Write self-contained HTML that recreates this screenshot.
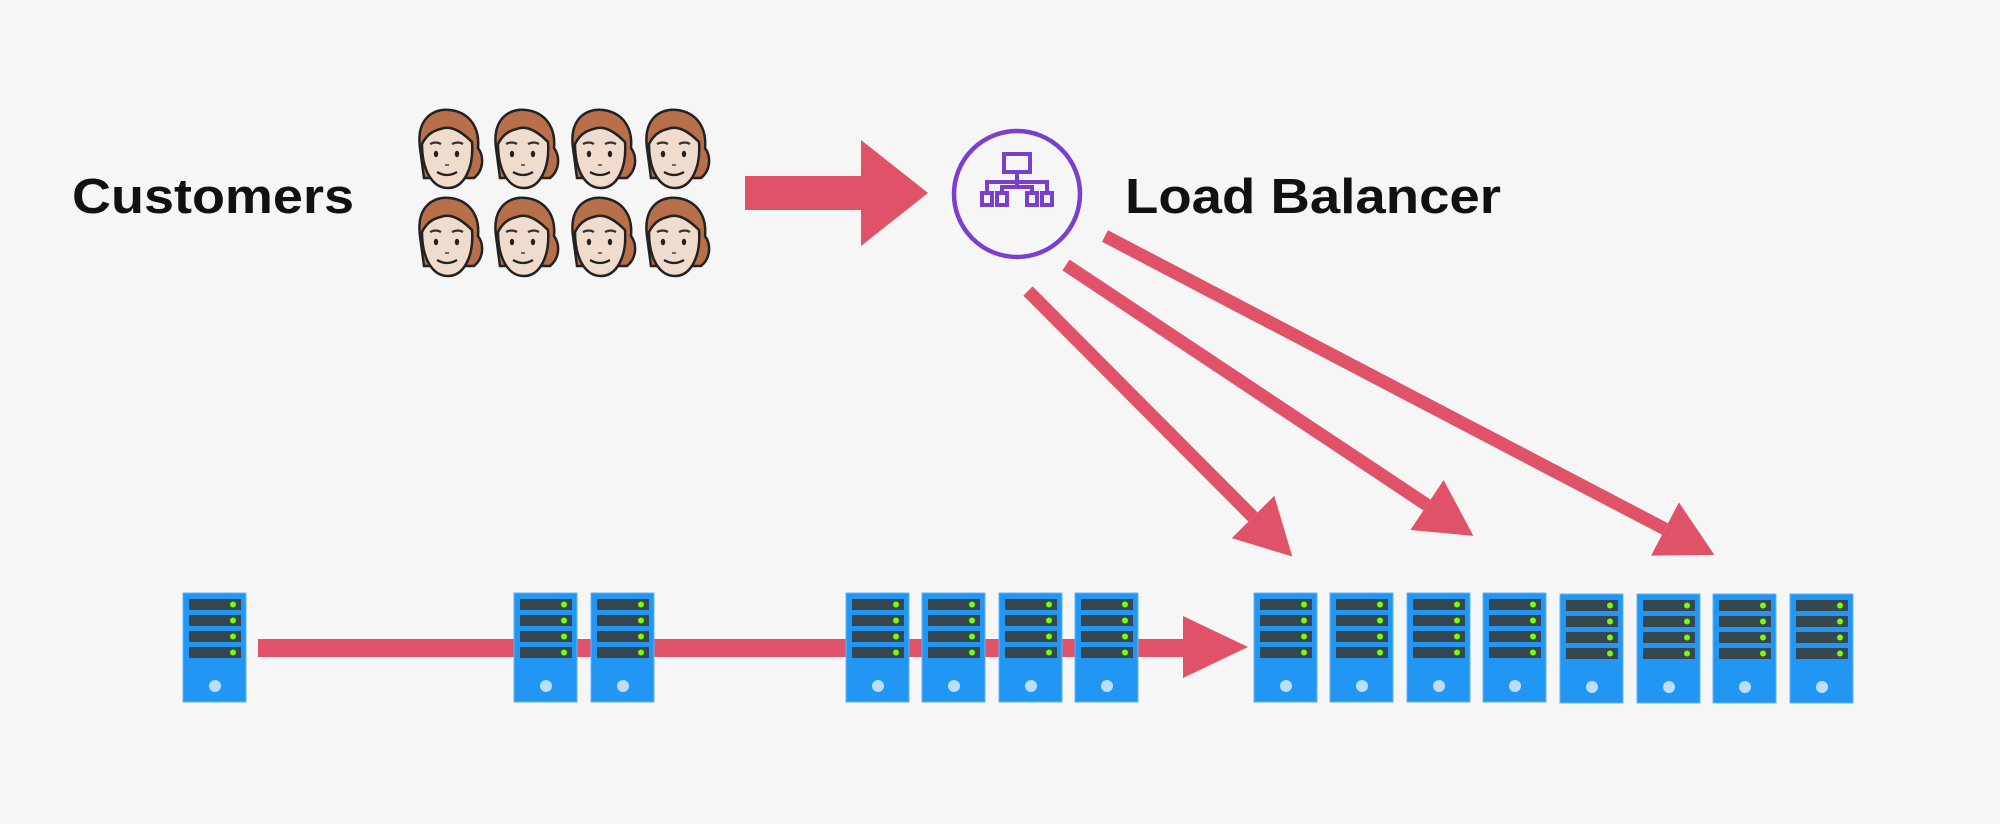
<!DOCTYPE html>
<html><head><style>
html,body{margin:0;padding:0;background:#f6f6f6;}
svg{display:block}
text{font-family:"Liberation Sans",sans-serif;font-weight:bold;fill:#111}
</style></head><body>
<svg width="2000" height="824" viewBox="0 0 2000 824" xmlns="http://www.w3.org/2000/svg">
<defs>
<marker id="ah" markerUnits="userSpaceOnUse" markerWidth="60" markerHeight="60" refX="0" refY="28" orient="auto" viewBox="0 0 52 56">
<path d="M0,0 L52,28 L0,56 z" fill="#e05268"/>
</marker>
<g id="face">
<path d="M6,40 C2,10 20,0 36,2 C54,4 66,18 64,40 C70,48 70,62 60,70 L10,70 Z" fill="#b8704a" stroke="#222" stroke-width="2.5"/>
<path d="M8,36 C14,24 22,22 30,20 C40,18 50,26 58,34 C60,60 50,80 34,80 C18,80 8,62 8,36 Z" fill="#f0dccd" stroke="#222" stroke-width="2.5"/>
<path d="M16,36 q6,-3 11,0 M38,36 q6,-3 11,0" stroke="#333" stroke-width="2.2" fill="none"/>
<ellipse cx="22" cy="46" rx="2.2" ry="3.2" fill="#222"/>
<ellipse cx="43" cy="46" rx="2.2" ry="3.2" fill="#222"/>
<path d="M31,57 h4" stroke="#444" stroke-width="1.5"/>
<path d="M23,64 q10,6 20,0" stroke="#222" stroke-width="2.2" fill="none"/>
</g>
<g id="srv">
<rect x="0" y="0" width="63" height="109" fill="#2196f3" stroke="#64b5f6" stroke-width="1"/>
<rect x="6" y="6" width="52" height="11" fill="#37474f"/>
<rect x="6" y="22" width="52" height="11" fill="#37474f"/>
<rect x="6" y="38" width="52" height="11" fill="#37474f"/>
<rect x="6" y="54" width="52" height="11" fill="#37474f"/>
<circle cx="50" cy="11.5" r="3" fill="#76ff03"/>
<circle cx="50" cy="27.5" r="3" fill="#76ff03"/>
<circle cx="50" cy="43.5" r="3" fill="#76ff03"/>
<circle cx="50" cy="59.5" r="3" fill="#76ff03"/>
<circle cx="32" cy="93" r="6" fill="#bbdefb"/>
</g>
</defs>

<text x="72" y="213" font-size="49" textLength="282" lengthAdjust="spacingAndGlyphs">Customers</text>
<text x="1125" y="213" font-size="49" textLength="376" lengthAdjust="spacingAndGlyphs">Load Balancer</text>

<use href="#face" x="414" y="108"/><use href="#face" x="490" y="108"/><use href="#face" x="567" y="108"/><use href="#face" x="641" y="108"/>
<use href="#face" x="414" y="196"/><use href="#face" x="490" y="196"/><use href="#face" x="567" y="196"/><use href="#face" x="641" y="196"/>

<polygon points="745,176 861,176 861,140 928,193 861,246 861,210 745,210" fill="#e05268"/>

<circle cx="1017" cy="194" r="63" fill="none" stroke="#7b3fd0" stroke-width="4.5"/>
<g fill="none" stroke="#7b3fd0" stroke-width="4">
<rect x="1004" y="154" width="26" height="18"/>
<path d="M1017,172 v10 M987,193 v-11 h60 v11 M1002,193 v-6 h30 v6 M1017,182 v5"/>
<rect x="982" y="193" width="10" height="12"/>
<rect x="997" y="193" width="10" height="12"/>
<rect x="1027" y="193" width="10" height="12"/>
<rect x="1042" y="193" width="10" height="12"/>
</g>

<g stroke="#e05268" stroke-width="13" fill="none">
<line x1="1028" y1="291" x2="1253" y2="517" marker-end="url(#ah)"/>
<line x1="1066" y1="265" x2="1427" y2="505" marker-end="url(#ah)"/>
<line x1="1105" y1="236" x2="1665" y2="529" marker-end="url(#ah)"/>
</g>

<polygon points="258,639 1183,639 1183,616 1248,647 1183,678 1183,657 258,657" fill="#e05268"/>

<use href="#srv" x="183" y="593"/>
<use href="#srv" x="514" y="593"/><use href="#srv" x="591" y="593"/>
<use href="#srv" x="846" y="593"/><use href="#srv" x="922" y="593"/><use href="#srv" x="999" y="593"/><use href="#srv" x="1075" y="593"/>
<use href="#srv" x="1254" y="593"/><use href="#srv" x="1330" y="593"/><use href="#srv" x="1407" y="593"/><use href="#srv" x="1483" y="593"/>
<use href="#srv" x="1560" y="594"/><use href="#srv" x="1637" y="594"/><use href="#srv" x="1713" y="594"/><use href="#srv" x="1790" y="594"/>
</svg>
</body></html>
